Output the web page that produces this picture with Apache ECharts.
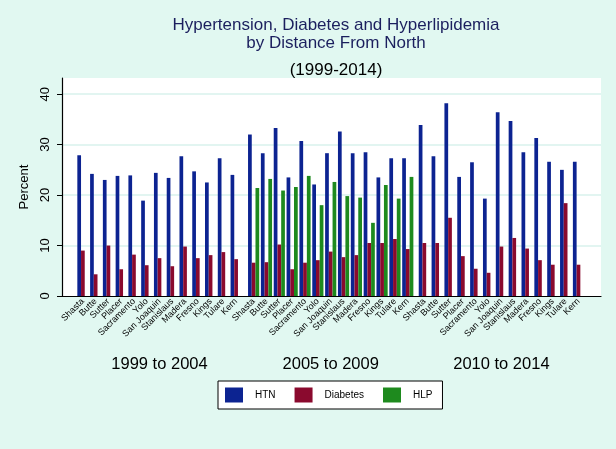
<!DOCTYPE html>
<html>
<head>
<meta charset="utf-8">
<script src="https://cdn.jsdelivr.net/npm/echarts@6/dist/echarts.min.js"></script>
<style>html,body{margin:0;padding:0;background:#e1f8f1;}#c{width:616px;height:449px;}</style>
</head>
<body>
<div id="c"></div>
<script>
const counties = ['Shasta','Butte','Sutter','Placer','Sacramento','Yolo','San Joaquin','Stanislaus','Madera','Fresno','Kings','Tulare','Kern'];
const periods = ['1999 to 2004','2005 to 2009','2010 to 2014'];
const seriesNames = ['HTN','Diabetes','HLP'];
const yTicks = [0,10,20,30,40];

const htn1999  = [27.9,24.2,23.0,23.8,23.9,18.9,24.4,23.4,27.7,24.7,22.5,27.3,24.0];
const diab1999 = [9.0,4.3,10.0,5.3,8.2,6.1,7.5,5.9,9.8,7.5,8.1,8.7,7.3];
const hlp1999  = [null,null,null,null,null,null,null,null,null,null,null,null,null];

const htn2005  = [32.0,28.3,33.3,23.5,30.7,22.1,28.3,32.6,28.3,28.5,23.5,27.3,27.3];
const diab2005 = [6.6,6.7,10.2,5.3,6.6,7.1,8.8,7.7,8.1,10.5,10.5,11.3,9.3];
const hlp2005  = [21.4,23.2,20.9,21.6,23.8,18.0,22.6,19.8,19.5,14.5,22.0,19.3,23.6];

const htn2010  = [33.9,27.7,38.2,23.6,26.5,19.3,36.4,34.7,28.5,31.3,26.6,25.0,26.6];
const diab2010 = [10.5,10.5,15.5,7.9,5.4,4.6,9.8,11.5,9.4,7.1,6.2,18.4,6.2];
const hlp2010  = [null,null,null,null,null,null,null,null,null,null,null,null,null];

const groups = [
  [htn1999, diab1999, hlp1999],
  [htn2005, diab2005, hlp2005],
  [htn2010, diab2010, hlp2010]
];
const colors = ['#0c2391','#8a0a2e','#1e8a1e'];

const TOP = 78, BOTTOM = 153, YMAX = 43.2;
const groupLeft = [76.5, 247.2, 417.9];
const groupWidth = [166, 167, 167];

const grids = [{left: 62, right: 15, top: TOP, bottom: BOTTOM, show: true, backgroundColor: '#ffffff', borderWidth: 0, borderColor: 'transparent'}];
const xAxes = [{gridIndex: 0, type: 'category', position: 'bottom', data: ['a'],
  axisLine: {show: true, onZero: false, lineStyle: {color: '#000', width: 1.2}},
  axisTick: {show: false}, axisLabel: {show: false}, splitLine: {show: false}}];
const yAxes = [{
  gridIndex: 0, type: 'value', position: 'left', min: 0, max: YMAX, interval: 10,
  name: 'Percent', nameLocation: 'middle', nameRotate: 90, nameGap: 31,
  nameTextStyle: {fontFamily: 'Liberation Sans, Arial', fontSize: 13, color: '#000'},
  axisLine: {show: true, onZero: false, lineStyle: {color: '#000', width: 1.2}},
  axisTick: {show: true, length: 5, lineStyle: {color: '#000'}, customValues: yTicks},
  axisLabel: {rotate: 90, margin: 10, fontFamily: 'Liberation Sans, Arial', fontSize: 13, color: '#000',
    customValues: yTicks,
    formatter: v => (yTicks.indexOf(v) >= 0 ? String(v) : '')},
  splitLine: {show: true, showMinLine: false, lineStyle: {color: '#d8f2ed', width: 1.5}}
}];
const series = [];
groups.forEach((g, gi) => {
  grids.push({left: groupLeft[gi], width: groupWidth[gi], top: TOP, bottom: BOTTOM, show: false});
  xAxes.push({
    gridIndex: gi + 1, type: 'category', position: 'bottom', data: counties,
    axisLine: {show: false}, axisTick: {show: false}, splitLine: {show: false},
    axisLabel: {rotate: 45, interval: 0, margin: 4, fontFamily: 'Liberation Sans, Arial', fontSize: 9, color: '#000'},
    name: periods[gi], nameLocation: 'middle', nameGap: 60,
    nameTextStyle: {fontFamily: 'Liberation Sans, Arial', fontSize: 16.5, color: '#000'}
  });
  yAxes.push({gridIndex: gi + 1, type: 'value', min: 0, max: YMAX, show: false,
    axisLine: {show: false}, axisTick: {show: false}, axisLabel: {show: false}, splitLine: {show: false}});
  g.forEach((vals, si) => {
    series.push({
      name: seriesNames[si], type: 'bar', xAxisIndex: gi + 1, yAxisIndex: gi + 1,
      data: vals, barGap: '0%', barCategoryGap: '13%',
      itemStyle: {color: colors[si]}, silent: true, animation: false
    });
  });
});

const chart = echarts.init(document.getElementById('c'), null, {renderer: 'canvas'});
chart.setOption({
  backgroundColor: '#e1f8f1',
  animation: false,
  color: colors,
  title: [
    {text: 'Hypertension, Diabetes and Hyperlipidemia\nby Distance From North', left: 331, textAlign: 'center', top: 11,
     textStyle: {fontFamily: 'Liberation Sans, Arial', fontSize: 17, fontWeight: 'normal', color: '#1b1f5e', lineHeight: 18}},
    {text: '(1999-2014)', left: 331, textAlign: 'center', top: 56,
     textStyle: {fontFamily: 'Liberation Sans, Arial', fontSize: 17, fontWeight: 'normal', color: '#000', lineHeight: 18}}
  ],
  legend: {
    data: seriesNames, left: 218, top: 381, orient: 'horizontal',
    itemWidth: 18, itemHeight: 15, itemGap: 19,
    padding: [6.5, 10, 6.5, 7],
    backgroundColor: '#ffffff', borderColor: '#000', borderWidth: 1,
    icon: 'rect',
    selectedMode: false,
    textStyle: {fontFamily: 'Liberation Sans, Arial', fontSize: 10, color: '#000', padding: [0, 0, 0, 7]}
  },
  grid: grids,
  xAxis: xAxes,
  yAxis: yAxes,
  series: series
});
</script>
</body>
</html>
